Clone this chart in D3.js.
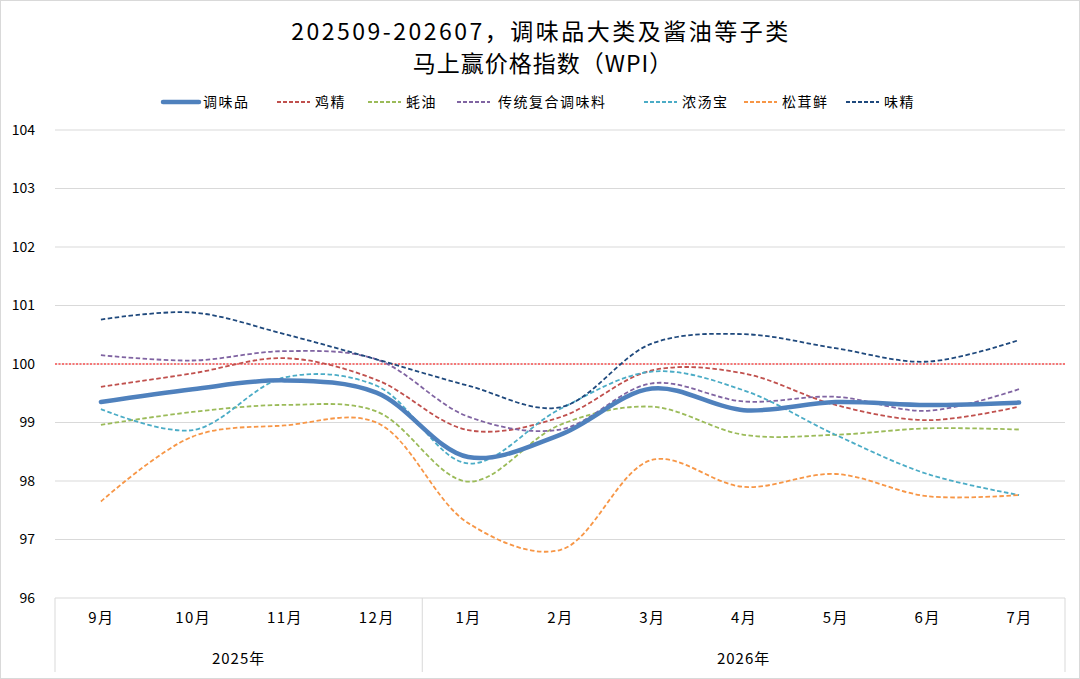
<!DOCTYPE html>
<html><head><meta charset="utf-8">
<script src="https://cdn.jsdelivr.net/npm/d3@7"></script>
<style>
html,body{margin:0;padding:0;background:#fff;}
svg{display:block;font-family:"Noto Sans CJK SC","Noto Sans",sans-serif;}
</style></head>
<body><svg id="c" width="1080" height="679"></svg>
<script>
const titleLines = ["202509-202607，调味品大类及酱油等子类", "马上赢价格指数（WPI）"];
const months = ["9月","10月","11月","12月","1月","2月","3月","4月","5月","6月","7月"];
const years = [{label:"2025年", from:0, to:3}, {label:"2026年", from:4, to:10}];
const yTicks = [96,97,98,99,100,101,102,103,104];
const refValue = 100;

const seriesNames = ["调味品","鸡精","蚝油","传统复合调味料","浓汤宝","松茸鲜","味精"];
const seasoning   = [99.35, 99.57, 99.72, 99.51, 98.41, 98.79, 99.58, 99.21, 99.35, 99.30, 99.34];
const chickenEss  = [99.61, 99.84, 100.10, 99.73, 98.87, 99.09, 99.89, 99.84, 99.30, 99.04, 99.27];
const oysterSauce = [98.96, 99.18, 99.30, 99.19, 97.99, 98.96, 99.27, 98.79, 98.79, 98.90, 98.88];
const compound    = [100.15, 100.06, 100.22, 100.08, 99.10, 98.88, 99.67, 99.36, 99.44, 99.20, 99.57];
const soupStock   = [99.23, 98.87, 99.77, 99.63, 98.30, 99.23, 99.87, 99.55, 98.79, 98.12, 97.76];
const matsutake   = [97.65, 98.76, 98.95, 99.00, 97.28, 96.82, 98.36, 97.90, 98.12, 97.74, 97.76];
const msg         = [100.76, 100.88, 100.51, 100.08, 99.63, 99.26, 100.35, 100.51, 100.27, 100.04, 100.41];
const seriesValues = [seasoning, chickenEss, oysterSauce, compound, soupStock, matsutake, msg];
const seriesColors = ["#4F81BD","#C0504D","#9BBB59","#8064A2","#4BACC6","#F79646","#1F497D"];

const svg = d3.select("#c");
const W = 1080, H = 679;
const L = 55, R = 1065, T = 130, B = 598;

svg.append("rect").attr("x",0.5).attr("y",0.5).attr("width",W-1).attr("height",H-1)
  .attr("fill","#fff").attr("stroke","#d9d9d9");

// title
svg.append("g").selectAll("text").data(titleLines).join("text")
  .attr("x",(d,i)=>W/2 + (i===0?1:3)).attr("y",(d,i)=>40+i*32)
  .attr("text-anchor","middle").attr("font-size",23).attr("letter-spacing",(d,i)=>i===0?2.5:1)
  .attr("fill","#000").text(d=>d);

const x = d3.scalePoint().domain(months).range([L,R]).padding(0.5);
const y = d3.scaleLinear().domain([96,104]).range([B,T]);

// gridlines
svg.append("g").selectAll("line").data(yTicks.filter(v=>v>96)).join("line")
  .attr("x1",L).attr("x2",R).attr("y1",d=>y(d)).attr("y2",d=>y(d))
  .attr("stroke","#d9d9d9").attr("stroke-width",1);

// y axis labels
const ya = svg.append("g").attr("transform",`translate(${L-20},0)`)
  .call(d3.axisLeft(y).tickValues(yTicks).tickSize(0).tickPadding(0).tickFormat(d3.format("d")));
ya.select(".domain").remove();
ya.selectAll("text").attr("font-size",14).attr("fill","#000")
  .attr("font-family","\"Noto Sans CJK SC\",sans-serif");

// x axis
const xa = svg.append("g").attr("transform",`translate(0,${B})`)
  .call(d3.axisBottom(x).tickSize(0).tickPadding(14));
xa.select(".domain").attr("stroke","#d9d9d9").attr("d",`M${L},0H${R}`);
xa.selectAll("text").attr("font-size",15).attr("fill","#000").attr("letter-spacing",1.5)
  .attr("font-family","\"Noto Sans CJK SC\",sans-serif");

// group separators
const step = x.step();
const seps = [L, L + step*4, R];
svg.append("g").selectAll("line").data(seps).join("line")
  .attr("x1",d=>d).attr("x2",d=>d).attr("y1",B).attr("y2",672)
  .attr("stroke","#d9d9d9").attr("stroke-width",1);

svg.append("g").selectAll("text").data(years).join("text")
  .attr("x",d=>(x(months[d.from]) - step/2 + x(months[d.to]) + step/2)/2)
  .attr("y",664).attr("text-anchor","middle").attr("font-size",15).attr("letter-spacing",1)
  .attr("fill","#000").text(d=>d.label);

// reference line
svg.append("line").attr("x1",L).attr("x2",R).attr("y1",y(refValue)).attr("y2",y(refValue))
  .attr("stroke","#FF0000").attr("stroke-width",1.2).attr("stroke-dasharray","2,1.5");

// series
const line = d3.line().x((d,i)=>x(months[i])).y(d=>y(d)).curve(d3.curveCatmullRom.alpha(0.5));
const order = [1,2,3,4,5,6,0];
svg.append("g").selectAll("path").data(order).join("path")
  .attr("d",k=>line(seriesValues[k]))
  .attr("fill","none")
  .attr("stroke",k=>seriesColors[k])
  .attr("stroke-width",k=>k===0?4.5:1.8)
  .attr("stroke-dasharray",k=>k===0?null:"4.5,2.5")
  .attr("stroke-linecap",k=>k===0?"round":"butt");

// legend
const legendX = [163, 277, 368, 457, 644, 744, 846];
const lg = svg.append("g").selectAll("g").data(seriesNames).join("g")
  .attr("transform",(d,i)=>`translate(${legendX[i]},102)`);
lg.append("line").attr("x1",0).attr("x2",(d,i)=>i===0?36:33).attr("y1",0).attr("y2",0)
  .attr("stroke",(d,i)=>seriesColors[i])
  .attr("stroke-width",(d,i)=>i===0?4.5:1.8)
  .attr("stroke-dasharray",(d,i)=>i===0?null:"4,2")
  .attr("stroke-linecap",(d,i)=>i===0?"round":"butt");
lg.append("text").attr("x",(d,i)=>i===0?40:(i===3?41:38)).attr("y",5)
  .attr("font-size",14).attr("fill","#000").attr("letter-spacing",1.5).text(d=>d);
</script></body></html>
